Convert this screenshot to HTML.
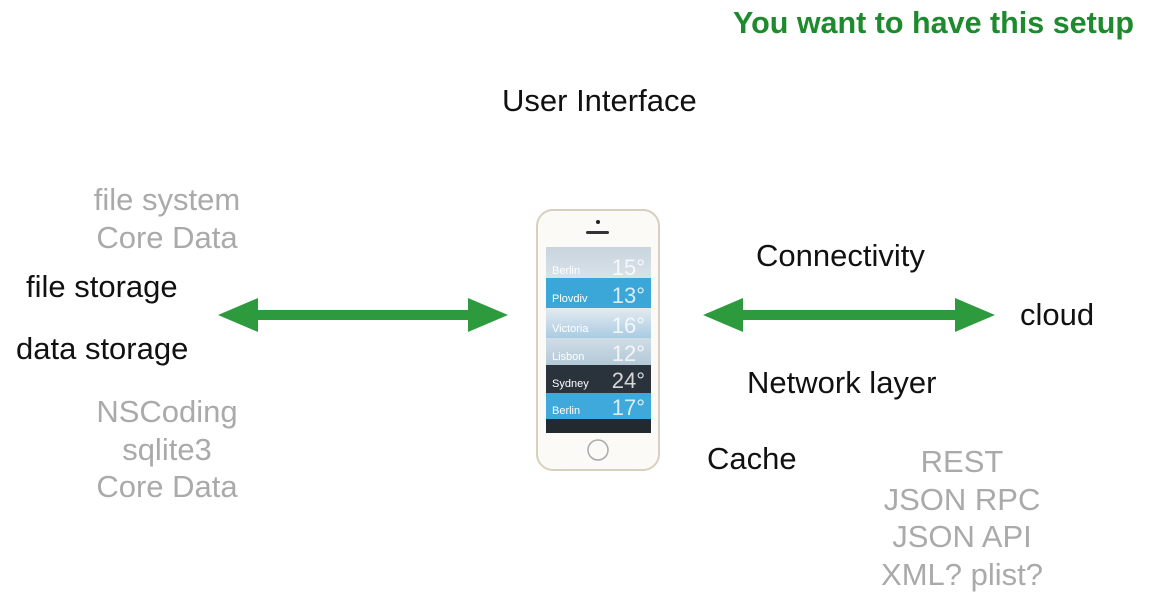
<!DOCTYPE html>
<html><head><meta charset="utf-8"><style>
body{margin:0;width:1155px;height:601px;background:#fff;position:relative;overflow:hidden;font-family:"Liberation Sans",sans-serif}
.t{position:absolute;white-space:nowrap;font-size:31px;color:#111;line-height:1}
.g{color:#aaa;text-align:center}
.r{position:absolute;left:0;width:105px}
.c{position:absolute;color:#fff;font-size:11px;left:6px}
.n{position:absolute;color:rgba(255,255,255,.8);font-size:22px;right:6px;font-weight:100}
</style></head><body>
<div class="t" style="left:733px;top:8px;color:#1e8a2e;font-weight:bold;font-size:30.5px">You want to have this setup</div>
<div class="t" style="left:502px;top:85px">User Interface</div>
<div class="t g" style="left:67px;top:181px;width:200px;line-height:38px">file system<br>Core Data</div>
<div class="t" style="left:26px;top:271px">file storage</div>
<div class="t" style="left:16px;top:333px">data storage</div>
<div class="t g" style="left:67px;top:393px;width:200px;line-height:37.5px">NSCoding<br>sqlite3<br>Core Data</div>
<div class="t" style="left:756px;top:240px">Connectivity</div>
<div class="t" style="left:1020px;top:299px">cloud</div>
<div class="t" style="left:747px;top:367px">Network layer</div>
<div class="t" style="left:707px;top:443px">Cache</div>
<div class="t g" style="left:852px;top:443px;width:220px;line-height:37.5px">REST<br>JSON RPC<br>JSON API<br>XML? plist?</div>
<svg style="position:absolute;left:0;top:0" width="1155" height="601">
<g fill="#2e9a3e">
<polygon points="218,315 258,298 258,310 468,310 468,298 508,315 468,332 468,320 258,320 258,332"/>
<polygon points="703,315 743,298 743,310 955,310 955,298 995,315 955,332 955,320 743,320 743,332"/>
</g>
<rect x="537" y="210" width="122" height="260" rx="16" fill="#fbfaf7" stroke="#d8cfbd" stroke-width="2"/>
<circle cx="598" cy="222" r="2" fill="#222"/>
<rect x="586" y="231" width="23" height="3" rx="1.5" fill="#333"/>
<circle cx="598" cy="450" r="10" fill="none" stroke="#aaa" stroke-width="1.5"/>
</svg>
<div style="position:absolute;left:546px;top:247px;width:105px;height:186px;overflow:hidden;background:#eee">
<div class="r" style="top:0;height:31px;background:linear-gradient(#c9d4dd,#d8e2ea)"></div>
<div class="r" style="top:31px;height:30px;background:#3aa7d8"></div>
<div class="r" style="top:61px;height:30px;background:linear-gradient(#e4ebf0,#a9cbe2)"></div>
<div class="r" style="top:91px;height:27px;background:linear-gradient(#d0dde6,#b3c9d8)"></div>
<div class="r" style="top:118px;height:28px;background:#2a323c"></div>
<div class="r" style="top:146px;height:26px;background:#3ea9da"></div>
<div class="r" style="top:172px;height:14px;background:#222a30"></div>
<div class="c" style="top:18px">Berlin</div><div class="n" style="top:8px">15°</div>
<div class="c" style="top:46px">Plovdiv</div><div class="n" style="top:36px">13°</div>
<div class="c" style="top:76px">Victoria</div><div class="n" style="top:66px">16°</div>
<div class="c" style="top:104px">Lisbon</div><div class="n" style="top:94px">12°</div>
<div class="c" style="top:131px">Sydney</div><div class="n" style="top:121px">24°</div>
<div class="c" style="top:158px">Berlin</div><div class="n" style="top:148px">17°</div>
</div>
</body></html>
